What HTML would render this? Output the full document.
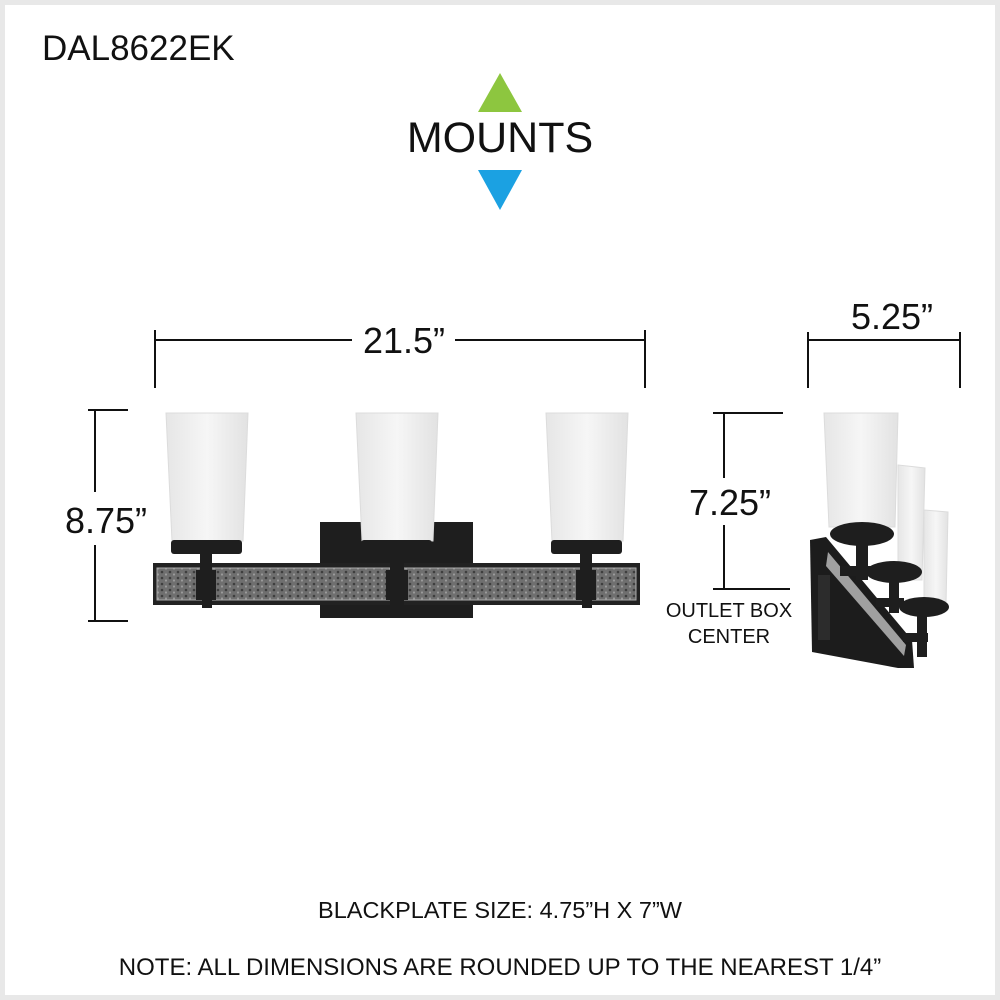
<!DOCTYPE html>
<html><head><meta charset="utf-8"><style>
html,body{margin:0;padding:0;background:#fff}
svg{display:block}
text{font-family:"Liberation Sans",sans-serif;fill:#111}
</style></head><body>
<svg width="1000" height="1000" viewBox="0 0 1000 1000">
<defs>
<linearGradient id="g" x1="0" x2="1" y1="0" y2="0"><stop offset="0" stop-color="#e6e6e6"/><stop offset="0.5" stop-color="#f6f6f6"/><stop offset="1" stop-color="#e2e2e2"/></linearGradient>
<pattern id="ham" width="8" height="6" patternUnits="userSpaceOnUse"><rect width="8" height="6" fill="#6f6f6f"/><circle cx="2" cy="2" r="1.3" fill="#3e3e3e"/><circle cx="6" cy="4.5" r="1.1" fill="#9a9a9a"/></pattern>
</defs>
<rect x="0" y="0" width="1000" height="1000" fill="#fff" stroke="#e8e8e8" stroke-width="10"/>
<text x="42" y="60" font-size="35">DAL8622EK</text>
<polygon points="500,73 478,112 522,112" fill="#8dc63f"/>
<text x="500" y="152" font-size="43" text-anchor="middle">MOUNTS</text>
<polygon points="478,170 522,170 500,210" fill="#1ba1e2"/>

<g stroke="#111" stroke-width="2" fill="none">
<line x1="155" y1="330" x2="155" y2="388"/><line x1="645" y1="330" x2="645" y2="388"/>
<line x1="155" y1="340" x2="352" y2="340"/><line x1="455" y1="340" x2="645" y2="340"/>
<line x1="808" y1="332" x2="808" y2="388"/><line x1="960" y1="332" x2="960" y2="388"/>
<line x1="808" y1="340" x2="960" y2="340"/>
<line x1="88" y1="410" x2="128" y2="410"/><line x1="88" y1="621" x2="128" y2="621"/>
<line x1="95" y1="410" x2="95" y2="492"/><line x1="95" y1="545" x2="95" y2="621"/>
<line x1="713" y1="413" x2="783" y2="413"/><line x1="713" y1="589" x2="790" y2="589"/>
<line x1="724" y1="413" x2="724" y2="478"/><line x1="724" y1="525" x2="724" y2="589"/>
</g>
<text x="404" y="353" font-size="36" text-anchor="middle">21.5”</text>
<text x="892" y="329" font-size="36" text-anchor="middle">5.25”</text>
<text x="106" y="533" font-size="36" text-anchor="middle">8.75”</text>
<text x="730" y="515" font-size="36" text-anchor="middle">7.25”</text>
<text x="729" y="617" font-size="20" text-anchor="middle">OUTLET BOX</text>
<text x="729" y="643" font-size="20" text-anchor="middle">CENTER</text>

<!-- front fixture -->
<rect x="320" y="522" width="153" height="96" fill="#1e1e1e"/>
<rect x="153" y="563" width="487" height="42" fill="#222"/>
<rect x="157" y="568" width="479" height="32" fill="url(#ham)" stroke="#aaa" stroke-width="1"/>
<g stroke="#dcdcdc" stroke-width="1">
<polygon points="166,413 248,413 243,541 172,541" fill="url(#g)"/>
<polygon points="356,413 438,413 433,541 362,541" fill="url(#g)"/>
<polygon points="546,413 628,413 623,541 552,541" fill="url(#g)"/>
</g>
<g fill="#1e1e1e">
<rect x="171" y="540" width="71" height="14" rx="3"/>
<rect x="200" y="553" width="12" height="18"/><rect x="196" y="570" width="20" height="30"/><rect x="202" y="598" width="10" height="10"/>
<rect x="361" y="540" width="71" height="14" rx="3"/>
<rect x="390" y="553" width="14" height="55"/><rect x="386" y="570" width="22" height="30"/>
<rect x="551" y="540" width="71" height="14" rx="3"/>
<rect x="580" y="553" width="12" height="18"/><rect x="576" y="570" width="20" height="30"/><rect x="582" y="598" width="10" height="10"/>
</g>

<!-- side view -->
<g stroke="#dcdcdc" stroke-width="1">
<polygon points="924,510 948,512 946,605 924,605" fill="url(#g)"/>
<polygon points="898,465 925,468 922,580 898,580" fill="url(#g)"/>
<polygon points="824,413 898,413 895,527 829,527" fill="url(#g)"/>
</g>
<polygon points="810,540 826,537 912,640 914,668 898,668 812,652" fill="#1c1c1c"/>
<polygon points="828,552 906,645 904,656 826,566" fill="#a0a0a0"/>
<rect x="818" y="575" width="12" height="65" fill="#2c2c2c"/>
<g fill="#1e1e1e">
<ellipse cx="862" cy="534" rx="32" ry="12"/>
<rect x="856" y="540" width="12" height="40"/><rect x="840" y="566" width="34" height="10"/>
<ellipse cx="894" cy="572" rx="28" ry="11"/>
<rect x="889" y="578" width="10" height="35"/><rect x="876" y="598" width="28" height="9"/>
<ellipse cx="924" cy="607" rx="25" ry="10"/>
<rect x="917" y="612" width="10" height="45"/><rect x="903" y="633" width="25" height="9"/>
</g>

<text x="500" y="918" font-size="23.5" text-anchor="middle">BLACKPLATE SIZE: 4.75”H X 7”W</text>
<text x="500" y="975" font-size="24" text-anchor="middle">NOTE: ALL DIMENSIONS ARE ROUNDED UP TO THE NEAREST 1/4”</text>
</svg>
</body></html>
